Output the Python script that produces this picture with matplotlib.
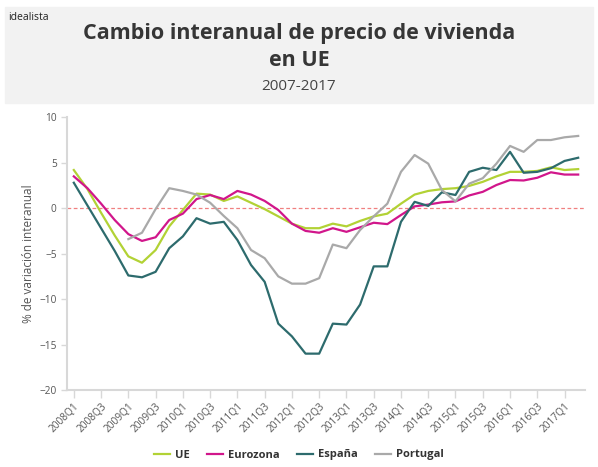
import numpy as np
import matplotlib
matplotlib.use('Agg')
import matplotlib.pyplot as plt
from matplotlib.patches import Rectangle

# Trimestres 2008Q1 .. 2017Q2
trimestres = [f'{a}Q{q}' for a in range(2008, 2018) for q in range(1, 5)][:38]

ue = [4.2, 2.1, -0.5, -3.0, -5.3, -6.0, -4.6, -2.0, -0.2, 1.6, 1.5, 0.8, 1.3, 0.6,
      -0.1, -0.9, -1.7, -2.2, -2.2, -1.7, -2.0, -1.4, -0.9, -0.6, 0.5, 1.5, 1.9, 2.1,
      2.2, 2.45, 2.9, 3.5, 4.0, 4.0, 4.1, 4.5, 4.2, 4.3]
eurozona = [3.5, 2.2, 0.5, -1.3, -2.85, -3.6, -3.2, -1.3, -0.6, 1.0, 1.45, 1.0, 1.9, 1.5,
            0.8, -0.2, -1.7, -2.5, -2.7, -2.2, -2.6, -2.1, -1.6, -1.75, -0.75, 0.2, 0.4, 0.65,
            0.75, 1.4, 1.8, 2.55, 3.1, 3.05, 3.35, 3.95, 3.7, 3.7]
espana = [2.8, 0.3, -2.2, -4.7, -7.4, -7.6, -7.0, -4.4, -3.1, -1.1, -1.7, -1.5, -3.5, -6.25,
          -8.1, -12.7, -14.1, -16.0, -16.0, -12.7, -12.8, -10.6, -6.4, -6.4, -1.5, 0.7, 0.25, 1.75,
          1.45, 4.0, 4.45, 4.2, 6.2, 3.9, 4.0, 4.4, 5.2, 5.55]
# Portugal empieza en 2009Q1
portugal = [np.nan] * 4 + [-3.4, -2.7, -0.1, 2.2, 1.9, 1.5, 0.6, -0.85, -2.2, -4.6,
                           -5.5, -7.5, -8.3, -8.3, -7.7, -4.0, -4.4, -2.4, -0.9, 0.5, 4.0, 5.85,
                           4.9, 2.0, 0.75, 2.7, 3.3, 4.9, 6.85, 6.2, 7.5, 7.5, 7.8, 7.95]

series = [('UE', ue, '#b2d235'), ('Eurozona', eurozona, '#d1168b'),
          ('España', espana, '#2d6b6d'), ('Portugal', portugal, '#a9a9a9')]

plt.rcParams['font.family'] = ['Open Sans', 'DejaVu Sans']

fig = plt.figure(figsize=(5.98, 4.67), dpi=100)
fig.patches.append(Rectangle((5 / 598, 1 - 103 / 467), 588 / 598, 96 / 467,
                             transform=fig.transFigure, color='#f2f2f2', zorder=0))
fig.text(8 / 598, 1 - 17 / 467, 'idealista', fontsize=7.5, color='#222222', va='center')
fig.text(0.5, 1 - 33 / 467, 'Cambio interanual de precio de vivienda', fontsize=15.5,
         fontweight='bold', color='#363636', ha='center', va='center')
fig.text(0.5, 1 - 60 / 467, 'en UE', fontsize=15.5, fontweight='bold', color='#363636',
         ha='center', va='center')
fig.text(0.5, 1 - 86 / 467, '2007-2017', fontsize=11, color='#444444', ha='center', va='center')

ax = fig.add_axes([67 / 598, 1 - 390 / 467, (585 - 67) / 598, (390 - 117.3) / 467])
x = np.arange(len(trimestres))
for nombre, valores, color in series:
    ax.plot(x, valores, color=color, linewidth=1.6, label=nombre)

ax.axhline(0, color='#f08080', linewidth=0.9, linestyle=(0, (3, 2)), zorder=0)

ax.set_xlim(-0.5, 37.5)
ax.set_ylim(-20, 10)
ax.set_yticks(range(-20, 11, 5))
ax.set_xticks(x[::2])
ax.set_xticklabels(trimestres[::2], rotation=45, ha='right', rotation_mode='anchor')
ax.tick_params(axis='both', labelsize=7.3, colors='#555555', color='#d8d8d8', width=1)
ax.tick_params(axis='x', length=6, pad=2)
ax.tick_params(axis='y', length=4)
for s in ['top', 'right']:
    ax.spines[s].set_visible(False)
for s in ['left', 'bottom']:
    ax.spines[s].set_color('#d8d8d8')
    ax.spines[s].set_linewidth(1.5)
ax.set_ylabel('% de variación interanual', fontsize=8.5, color='#555555', labelpad=3)

leg = fig.legend(loc='center', bbox_to_anchor=(0.5, 1 - 455 / 467), ncol=4, frameon=False,
                 handlelength=1.4, columnspacing=1.6, handletextpad=0.45,
                 prop={'size': 8, 'weight': 'bold'})
for t in leg.get_texts():
    t.set_color('#333333')

fig.savefig('out.png', dpi=100)
